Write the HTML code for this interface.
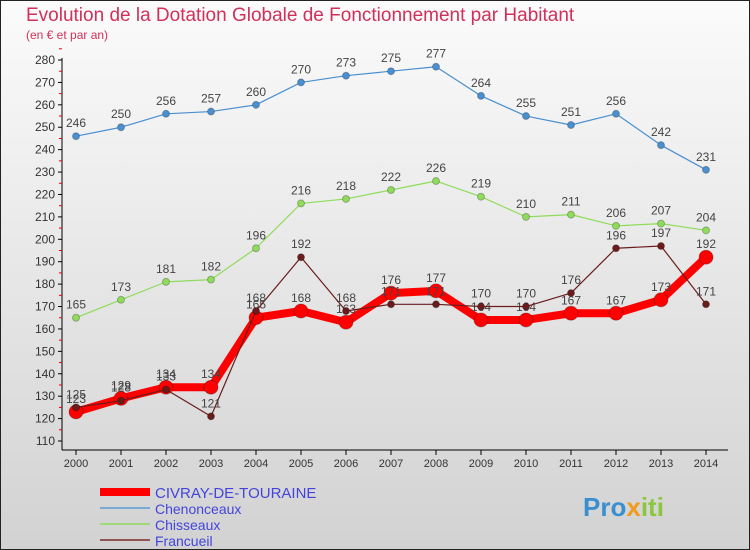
<!DOCTYPE html>
<html><head><meta charset="utf-8"><style>
body{margin:0;width:750px;height:550px;overflow:hidden;font-family:"Liberation Sans",sans-serif}
svg{display:block}
</style></head><body>
<svg id="chart" width="750" height="550" xmlns="http://www.w3.org/2000/svg">
<defs><linearGradient id="bg" x1="0" y1="0" x2="0" y2="1"><stop offset="0" stop-color="#fbfbfb"/><stop offset="1" stop-color="#d2d2d2"/></linearGradient></defs>
<rect x="0.5" y="0.5" width="749" height="549" fill="url(#bg)" stroke="#222"/>
<text x="26" y="21" font-size="19" fill="#d0305a">Evolution de la Dotation Globale de Fonctionnement par Habitant</text>
<text x="26" y="39" font-size="12" fill="#d0305a">(en € et par an)</text>
<g id="axes"></g><g id="series"></g>
<g>
<line x1="100" y1="492" x2="150" y2="492" stroke="#f00" stroke-width="8"/>
<text x="155" y="498" font-size="15" fill="#4444dd">CIVRAY-DE-TOURAINE</text>
<line x1="100" y1="508" x2="150" y2="508" stroke="#5b9bd5" stroke-width="1.5"/>
<text x="155" y="514" font-size="14" fill="#4444dd">Chenonceaux</text>
<line x1="100" y1="524" x2="150" y2="524" stroke="#8fdc5a" stroke-width="1.5"/>
<text x="155" y="530" font-size="14" fill="#4444dd">Chisseaux</text>
<line x1="100" y1="540" x2="150" y2="540" stroke="#7a2a2a" stroke-width="1.5"/>
<text x="155" y="546" font-size="14" fill="#4444dd">Francueil</text>
</g>
<text x="583" y="516" font-size="26" font-weight="bold" fill="#3a8fd0">Pro<tspan fill="#f29a1a">x</tspan><tspan fill="#8cc63f">iti</tspan></text>
</svg>
<script>
const years=[2000,2001,2002,2003,2004,2005,2006,2007,2008,2009,2010,2011,2012,2013,2014];
const yTicks=[110,120,130,140,150,160,170,180,190,200,210,220,230,240,250,260,270,280];
const civray=[123,129,134,134,165,168,163,176,177,164,164,167,167,173,192];
const chenonceaux=[246,250,256,257,260,270,273,275,277,264,255,251,256,242,231];
const chisseaux=[165,173,181,182,196,216,218,222,226,219,210,211,206,207,204];
const francueil=[125,128,133,121,168,192,168,171,171,170,170,176,196,197,171];
const NS="http://www.w3.org/2000/svg";
const x=i=>76+i*45;
const y=v=>441-(v-110)*(381/170);
function mk(t,a,p){const e=document.createElementNS(NS,t);for(const k in a)e.setAttribute(k,a[k]);p.appendChild(e);return e;}
const ax=document.getElementById('axes');
const yl=mk('line',{x1:62,y1:58,x2:62,y2:450,stroke:'#000'},ax);


const xl=mk('line',{x1:62,y1:450,x2:728,y2:450,stroke:'#000'},ax);


yTicks.forEach(v=>{
  mk('line',{x1:58,y1:y(v),x2:62,y2:y(v),stroke:'#000'},ax);
  mk('line',{x1:59,y1:y(v+5),x2:62,y2:y(v+5),stroke:'#e00'},ax);
  const t=mk('text',{x:55,y:y(v)+4,'font-size':12,fill:'#333','text-anchor':'end'},ax);
  t.textContent=v;
  
  
});
years.forEach((yr,i)=>{
  mk('line',{x1:x(i),y1:450,x2:x(i),y2:455,stroke:'#000'},ax);
  const t=mk('text',{x:x(i),y:467,'font-size':11,fill:'#333','text-anchor':'middle'},ax);
  t.textContent=yr;
  
  
});
const sg=document.getElementById('series');
function series(vals,color,w,r,name){
  const g=mk('g',{},sg);
  
  
  const pl=mk('polyline',{points:vals.map((v,i)=>x(i)+','+y(v)).join(' '),fill:'none',stroke:color,'stroke-width':w,'stroke-linejoin':'round'},g);
  
  
  vals.forEach((v,i)=>{
    const c=mk('circle',{cx:x(i),cy:y(v),r:r,fill:color,stroke:'rgba(0,0,0,0.25)'},g);
    
    
    const t=mk('text',{x:x(i),y:y(v)-9,'font-size':12,fill:'#444','text-anchor':'middle'},g);
    t.textContent=v;
    
    
  });
}
series(chenonceaux,'#4a8fcf',1.2,3.5,'chenonceaux');
series(chisseaux,'#8fdc5a',1.2,3.5,'chisseaux');
series(civray,'#f00',8,7,'civray');
series(francueil,'#6a1c1c',1.2,3.5,'francueil');
</script>
</body></html>
